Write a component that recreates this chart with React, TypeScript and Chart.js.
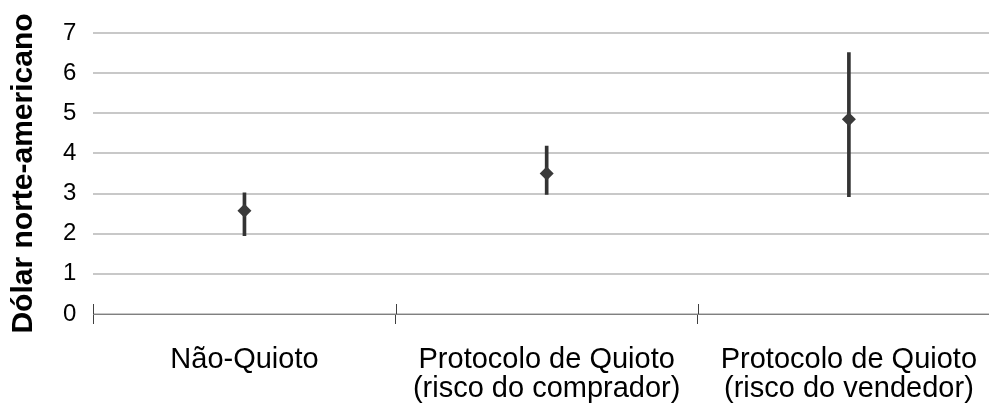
import React, { useEffect, useRef } from "react";
import { Chart, registerables } from "chart.js";

Chart.register(...registerables);

const categories: string[][] = [
  ["Não-Quioto"],
  ["Protocolo de Quioto", "(risco do comprador)"],
  ["Protocolo de Quioto", "(risco do vendedor)"],
];
const meanValues = [2.57, 3.5, 4.85];
const lowValues = [1.95, 2.98, 2.92];
const highValues = [3.02, 4.18, 6.51];
const yTicks = [0, 1, 2, 3, 4, 5, 6, 7];
const yTitle = "Dólar norte-americano";

const boundaryTicks = {
  id: "boundaryTicks",
  afterDatasetsDraw(chart: any) {
    const xs = chart.scales.x;
    const ctx = chart.ctx;
    const y0 = chart.scales.y.getPixelForValue(0);
    ctx.save();
    ctx.strokeStyle = "#404040";
    ctx.lineWidth = 1;
    for (let i = 0; i <= categories.length; i++) {
      const x = Math.round(xs.getPixelForValue(i - 0.5)) + 0.5;
      ctx.beginPath();
      ctx.moveTo(x, y0 - 10);
      ctx.lineTo(x, y0);
      ctx.stroke();
    }
    ctx.restore();
  },
};

export default function App() {
  const ref = useRef<HTMLCanvasElement>(null);
  useEffect(() => {
    if (!ref.current) return;
    const chart = new Chart(ref.current, {
      type: "bar",
      data: {
        labels: categories,
        datasets: [
          {
            type: "line",
            data: meanValues,
            showLine: false,
            pointStyle: "rectRot",
            pointRadius: 7,
            pointBackgroundColor: "#3a3a3a",
            pointBorderColor: "#3a3a3a",
            pointBorderWidth: 0,
            order: 0,
          } as any,
          {
            type: "bar",
            data: lowValues.map((l, i) => [l, highValues[i]]),
            backgroundColor: "#333333",
            barThickness: 3,
            grouped: false,
            borderWidth: 0,
            order: 1,
          } as any,
        ],
      },
      options: {
        animation: false,
        responsive: false,
        maintainAspectRatio: false,
        layout: { padding: { top: 33, right: 0, bottom: 0, left: 0 } },
        plugins: {
          legend: { display: false },
          tooltip: { enabled: false },
        },
        scales: {
          x: {
            offset: true,
            grid: {
              offset: true,
              drawOnChartArea: false,
              drawTicks: true,
              tickLength: 10,
              color: "#404040",
            },
            border: { display: true, color: "#808080", width: 1 },
            ticks: {
              padding: 21,
              color: "#000000",
              font: { family: "Liberation Sans, Arial, sans-serif", size: 29, lineHeight: 1.0 },
              maxRotation: 0,
              autoSkip: false,
            },
          },
          y: {
            min: 0,
            max: 7,
            afterBuildTicks: (scale: any) => {
              scale.ticks = yTicks.map((v) => ({ value: v }));
            },
            grid: { color: "#c8c8c8", lineWidth: 2, drawTicks: false },
            border: { display: false },
            ticks: {
              padding: 17,
              color: "#000000",
              font: { family: "Liberation Sans, Arial, sans-serif", size: 24 },
            },
            title: {
              display: true,
              text: yTitle,
              color: "#000000",
              font: { family: "Liberation Sans, Arial, sans-serif", size: 30, weight: "bold" },
              padding: { top: 6, bottom: 4 },
            },
          },
        },
      },
      plugins: [boundaryTicks],
    });
    return () => chart.destroy();
  }, []);
  return (
    <div style={{ position: "absolute", left: 0, top: 0, width: 989, height: 410, overflow: "hidden" }}>
      <canvas ref={ref} width={1007} height={424} style={{ display: "block" }} />
    </div>
  );
}
